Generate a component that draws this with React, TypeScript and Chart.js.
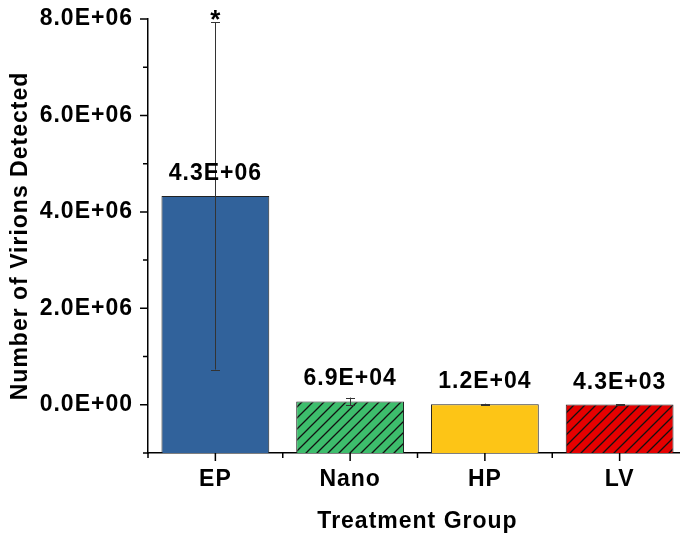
import React, { useEffect, useRef } from 'react';
import { Chart, registerables } from 'chart.js';

Chart.register(...registerables);

const categories = ['EP', 'Nano', 'HP', 'LV'];
const meanValues = [4.33e6, 6.9e4, 1.2e4, 4.3e3];
const errorValues = [3.6e6, 8.0e4, 1.0e4, 2.0e3];
const barColors = ['#31629b', '#3dbd6c', '#fdc516', '#e50000'];
const hatched = [false, true, false, true];
const significance = ['*', '', '', ''];
const yMin = -1e6;
const yMax = 8e6;
const yStep = 1e6;
const xTitle = 'Treatment Group';
const yTitle = 'Number of Virions Detected';

const FAMILY = "'Liberation Sans', Arial, sans-serif";
const FONT_SIZE = 23;
const LETTER = '1px';

function sciLabel(v: number): string {
  const s = v.toExponential(1);
  const [m, e] = s.split('e');
  const sign = e[0] === '-' ? '-' : '+';
  const digits = e.replace(/[+-]/, '').padStart(2, '0');
  return `${m}E${sign}${digits}`;
}

function makeHatch(bg: string): CanvasPattern | string {
  const s = 11;
  const c = document.createElement('canvas');
  c.width = s;
  c.height = s;
  const g = c.getContext('2d');
  if (!g) return bg;
  g.fillStyle = bg;
  g.fillRect(0, 0, s, s);
  g.strokeStyle = '#111';
  g.lineWidth = 1.3;
  g.beginPath();
  g.moveTo(0, s);
  g.lineTo(s, 0);
  g.moveTo(-s / 2, s / 2);
  g.lineTo(s / 2, -s / 2);
  g.moveTo(s / 2, s * 1.5);
  g.lineTo(s * 1.5, s / 2);
  g.stroke();
  return g.createPattern(c, 'repeat') || bg;
}

const letterPlugin = {
  id: 'letterSpacing',
  beforeUpdate(chart: any) {
    chart.ctx.letterSpacing = LETTER;
  },
  beforeDraw(chart: any) {
    chart.ctx.letterSpacing = LETTER;
  },
};

const decorPlugin = {
  id: 'decor',
  afterDraw(chart: any) {
    const ctx: CanvasRenderingContext2D = chart.ctx;
    const xs = chart.scales.x;
    const ys = chart.scales.y;
    const area = chart.chartArea;
    ctx.save();
    (ctx as any).letterSpacing = LETTER;
    // ticks
    ctx.strokeStyle = '#000';
    ctx.lineWidth = 1.5;
    ctx.beginPath();
    for (let v = yMin; v <= yMax + 1; v += yStep) {
      const y = ys.getPixelForValue(v);
      const major = Math.round(v / yStep) % 2 === 0;
      const len = major ? 8 : 5;
      ctx.moveTo(area.left - len, y);
      ctx.lineTo(area.left, y);
    }
    for (let i = 0; i < categories.length; i++) {
      const x = xs.getPixelForValue(i);
      ctx.moveTo(x, area.bottom);
      ctx.lineTo(x, area.bottom + 8);
    }
    for (let k = 0; k <= categories.length; k++) {
      const x = xs.getPixelForValue(k - 0.5);
      ctx.moveTo(x, area.bottom);
      ctx.lineTo(x, area.bottom + 5);
    }
    ctx.stroke();

    // error bars
    ctx.strokeStyle = '#333';
    ctx.lineWidth = 1;
    const meta = chart.getDatasetMeta(0);
    meta.data.forEach((bar: any, i: number) => {
      const x = Math.round(bar.x) + 0.5;
      const top = ys.getPixelForValue(meanValues[i] + errorValues[i]);
      const bot = ys.getPixelForValue(meanValues[i] - errorValues[i]);
      ctx.beginPath();
      ctx.moveTo(x, top);
      ctx.lineTo(x, bot);
      ctx.moveTo(x - 4.5, Math.round(top) + 0.5);
      ctx.lineTo(x + 4.5, Math.round(top) + 0.5);
      ctx.moveTo(x - 4.5, Math.round(bot) + 0.5);
      ctx.lineTo(x + 4.5, Math.round(bot) + 0.5);
      ctx.stroke();
    });

    // value labels
    ctx.fillStyle = '#000';
    ctx.textAlign = 'center';
    ctx.textBaseline = 'alphabetic';
    ctx.font = `bold ${FONT_SIZE}px ${FAMILY}`;
    meta.data.forEach((bar: any, i: number) => {
      const top = ys.getPixelForValue(meanValues[i]);
      ctx.fillText(sciLabel(meanValues[i]), bar.x, top - 16);
    });

    // significance marks
    ctx.font = `bold 26px ${FAMILY}`;
    (ctx as any).letterSpacing = '0px';
    meta.data.forEach((bar: any, i: number) => {
      if (!significance[i]) return;
      const top = ys.getPixelForValue(meanValues[i] + errorValues[i]);
      ctx.fillText(significance[i], bar.x, top + 6);
    });
    ctx.restore();
  },
};

export default function App() {
  const ref = useRef<HTMLCanvasElement | null>(null);
  useEffect(() => {
    if (!ref.current) return;
    const bg = barColors.map((c, i) => (hatched[i] ? makeHatch(c) : c));
    const font = { family: FAMILY, size: FONT_SIZE, weight: 'bold' as const };
    const chart = new Chart(ref.current, {
      type: 'bar',
      data: {
        labels: categories,
        datasets: [
          {
            data: meanValues,
            backgroundColor: bg as any,
            borderColor: '#222',
            borderWidth: 1,
            base: yMin,
            barPercentage: 0.8,
            categoryPercentage: 1,
          } as any,
        ],
      },
      options: {
        animation: false,
        responsive: false,
        devicePixelRatio: 1,
        layout: { padding: { left: 0, top: 19, right: 3, bottom: 0 } },
        plugins: {
          legend: { display: false },
          tooltip: { enabled: false },
        },
        scales: {
          x: {
            type: 'category',
            grid: { display: false, drawTicks: false },
            border: { display: true, color: '#000', width: 1.5 },
            ticks: { color: '#000', font, padding: 13 },
            title: {
              display: true,
              text: xTitle,
              color: '#000',
              font,
              padding: { top: 0, bottom: 0 },
            },
            afterFit(scale: any) {
              scale.height = 82;
              scale.paddingLeft = 0;
              scale.paddingRight = 0;
            },
          },
          y: {
            type: 'linear',
            min: yMin,
            max: yMax,
            grid: { display: false, drawTicks: false },
            border: { display: true, color: '#000', width: 1.5 },
            ticks: {
              stepSize: yStep,
              autoSkip: false,
              color: '#000',
              font,
              padding: 15,
              callback(value: any) {
                const v = Number(value);
                const k = Math.round(v / yStep);
                if (k % 2 !== 0) return '';
                return sciLabel(v);
              },
            },
            title: {
              display: true,
              text: yTitle,
              color: '#000',
              font,
              padding: { top: 7, bottom: 0 },
            },
            afterFit(scale: any) {
              scale.width = 148;
              scale.paddingTop = 0;
              scale.paddingBottom = 0;
            },
          },
        },
      },
      plugins: [letterPlugin, decorPlugin],
    });
    return () => chart.destroy();
  }, []);
  return (
    <div
      style={{
        position: 'absolute',
        left: 0,
        top: 0,
        width: 680,
        height: 535,
        overflow: 'hidden',
        background: '#fff',
      }}
    >
      <canvas ref={ref} width={690} height={535} style={{ display: 'block' }} />
    </div>
  );
}
